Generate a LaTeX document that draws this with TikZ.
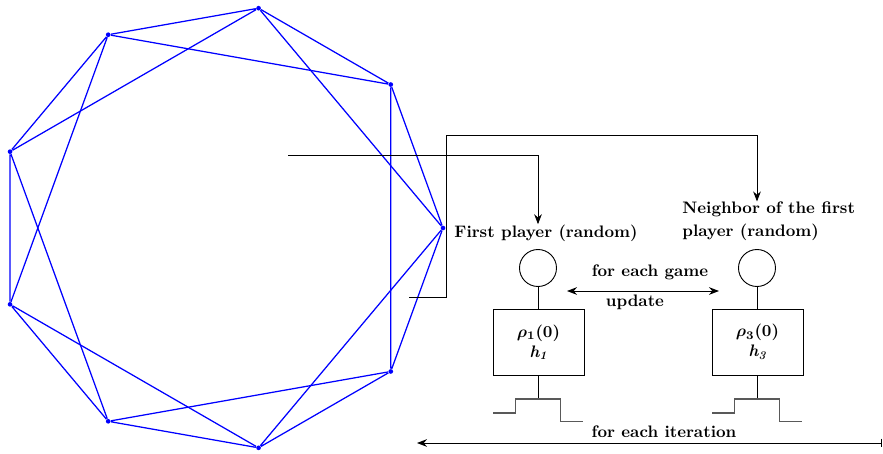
\documentclass[tikz,border=0pt]{standalone}
\usetikzlibrary{arrows.meta}
\begin{document}
\begin{tikzpicture}[x=0.6pt,y=-0.6pt,font=\bfseries,>={Stealth[length=6pt,width=4.6pt]},line width=0.55pt,
  vtx/.style={circle,fill=blue,inner sep=0,minimum size=2.8pt},
  link/.style={blue,line width=0.75pt},
  lbl/.style={inner sep=0,align=left},
  player/.style={circle,draw,minimum size=22.2pt,inner sep=0},
  state/.style={draw,minimum width=54.6pt,minimum height=39.6pt,align=center,font=\bfseries\boldmath},
  stepfn/.style={gray!70!black,line width=1pt}]
  \useasboundingbox (0,0) rectangle (883,453);
  % ring of nine players, two neighbours on each side
  \foreach \i in {0,...,8}
    \node[vtx] (v\i) at ({219.8+223.2*cos(40*\i)},{228-223.2*sin(40*\i)}) {};
  \foreach \i in {0,...,8}{
    \pgfmathtruncatemacro\j{mod(\i+1,9)}
    \pgfmathtruncatemacro\k{mod(\i+2,9)}
    \draw[link] (v\i) -- (v\j) (v\i) -- (v\k);
  }
  % the two chosen players
  \node[player] (c1) at (538,268) {};
  \node[player] (c3) at (757,268) {};
  \node[lbl,anchor=west] (fp) at (454,233) {First player (random)};
  \node[lbl,anchor=west] (nb) at (682,221.5) {Neighbor of the first\\[2pt]player (random)};
  \coordinate (src1) at (288,155);
  \coordinate (src2) at (446,135);
  \coordinate (brk) at (446,297);
  \coordinate (brkend) at (409,297);
  \draw[->] (src1) -| (fp.north -| c1);
  \draw[->] (src2) -| (nb.north -| c3);
  \draw (src2) -- (brk) -- (brkend);
  % states and strategies
  \node[state] (b1) at (538.5,342) {$\rho_1(0)$\\\textit{h\textsubscript{1}}};
  \node[state] (b3) at (757.5,342) {$\rho_3(0)$\\\textit{h\textsubscript{3}}};
  \draw (c1) -- (c1 |- b1.north);
  \draw (c3) -- (c3 |- b3.north);
  \foreach \b/\x in {b1/538,b3/757}{
    \coordinate (top-\b) at (\x,399);
    \draw (\x,375) -- (top-\b);
    \draw[stepfn] (\x-45,413) -- (\x-22.5,413) -- (\x-22.5,399)
      -- (\x+22.5,399) -- (\x+22.5,421.5) -- (\x+45,421.5);
  }
  % loops
  \coordinate (gl) at (567,291);
  \coordinate (gr) at (719,291);
  \draw[<->] (gl) -- (gr);
  \node (game) at (650,272) {for each game};
  \node (upd) at (635,302) {update};
  \coordinate (itl) at (417,443);
  \coordinate (itr) at (882.4,443);
  \draw[<-|] (itl) -- (itr);
  \node (iter) at (664,432) {for each iteration};
\end{tikzpicture}
\end{document}
